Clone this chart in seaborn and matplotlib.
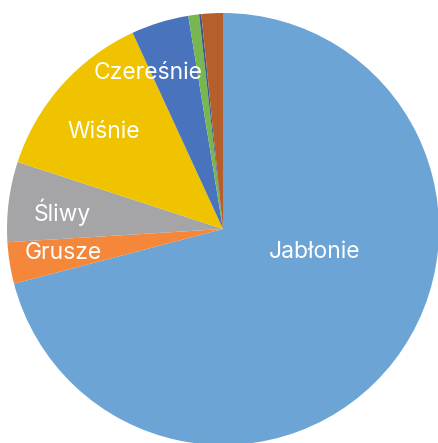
import matplotlib
matplotlib.use("Agg")
import matplotlib.pyplot as plt
import seaborn as sns
import numpy as np

# data (share of trees, %)
categories = ["Jabłonie", "Grusze", "Śliwy", "Wiśnie", "Czereśnie", "Inne 1", "Inne 2", "Inne 3"]
values = [70.9, 3.1, 6.0, 13.1, 4.3, 0.8, 0.17, 1.6]
shown = ["Jabłonie", "Grusze", "Śliwy", "Wiśnie", "Czereśnie"]
colors = ["#6CA4D5", "#F4873A", "#A5A5A8", "#F0C300", "#4A73BD", "#78B650", "#3A5A8C", "#B45F2C"]

# label placement (angle in degrees, fraction of radius)
label_pos = {
    "Jabłonie": (-14.3, 0.44),
    "Grusze": (188.5, 0.75),
    "Śliwy": (174.0, 0.75),
    "Wiśnie": (140.8, 0.71),
    "Czereśnie": (115.8, 0.80),
}

sns.set_style("white")
plt.rcParams["font.family"] = ["Inter", "DejaVu Sans"]

fig = plt.figure(figsize=(4.39, 4.43), dpi=100)
ax = fig.add_axes([7 / 439, -2 / 443, 432 / 439, 432 / 443])

ax.pie(values, colors=sns.color_palette(colors), startangle=90, counterclock=False,
       wedgeprops=dict(linewidth=0))

for name in shown:
    ang, r = label_pos[name]
    t = np.deg2rad(ang)
    ax.text(r * np.cos(t), r * np.sin(t), name, color="white", fontsize=16.5,
            ha="center", va="center")

ax.set_xlim(-1, 1)
ax.set_ylim(-1, 1)
ax.set_aspect("equal")
ax.axis("off")

fig.savefig("out.png", dpi=100, facecolor="white")
